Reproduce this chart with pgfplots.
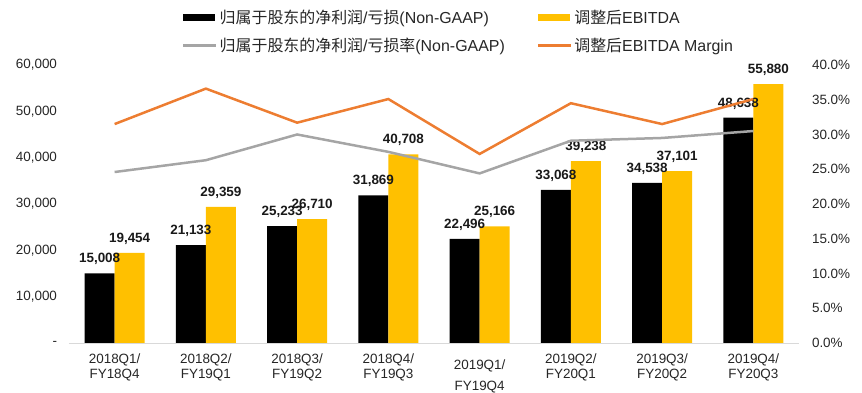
\documentclass[border=0pt]{standalone}
\usepackage{fontspec}
\setmainfont{Liberation Sans}
\newfontfamily\cjk{Noto Sans CJK SC}
\usepackage{pgfplots}
\pgfplotsset{compat=1.18}
\definecolor{bargold}{HTML}{FFC000}
\definecolor{lineorange}{HTML}{ED7D31}
\definecolor{linegray}{HTML}{A5A5A5}
\definecolor{basegray}{HTML}{D9D9D9}
\begin{document}
\begin{tikzpicture}
\begin{axis}[
  name=bars,
  scale only axis, width=730bp, height=278bp,
  xmin=-0.5, xmax=7.5, ymin=0, ymax=60000,
  clip=false,
  scaled y ticks=false,
  ybar=0pt, bar width=30bp,
  axis x line*=bottom, axis y line*=left,
  x axis line style={draw=basegray, line width=0.8bp, -},
  y axis line style={draw=none},
  major tick length=0pt,
  tick style={draw=none},
  xtick={0,1,2,3,5,6,7},
  xticklabels={{2018Q1/\\FY18Q4},{2018Q2/\\FY19Q1},{2018Q3/\\FY19Q2},{2018Q4/\\FY19Q3},{2019Q2/\\FY20Q1},{2019Q3/\\FY20Q2},{2019Q4/\\FY20Q3}},
  xticklabel style={align=center, font=\fontsize{13.5}{15}\selectfont, yshift=-7bp, text=black!85},
  extra x ticks={4},
  extra x tick labels={{2019Q1/\\FY19Q4}},
  extra x tick style={xticklabel style={yshift=-6bp, font=\fontsize{13.5}{21}\selectfont}},
  ytick={0,10000,20000,30000,40000,50000,60000},
  yticklabels={-,{10,000},{20,000},{30,000},{40,000},{50,000},{60,000}},
  yticklabel style={font=\fontsize{13.5}{15}\selectfont, xshift=-8.5bp, text=black!85},
  nodes near coords,
  nodes near coords style={font=\fontsize{13.5}{15}\selectfont\bfseries, yshift=5bp, text=black!90},
  /pgf/number format/assume math mode=true,
  /pgf/number format/.cd, fixed, precision=0, 1000 sep={,},
]
\addplot[fill=black, draw=none] coordinates {(0,15008) (1,21133) (2,25233) (3,31869) (4,22496) (5,33068) (6,34538) (7,48638)};
\addplot[fill=bargold, draw=none] coordinates {(0,19454) (1,29359) (2,26710) (3,40708) (4,25166) (5,39238) (6,37101) (7,55880)};
\end{axis}
\begin{axis}[
  scale only axis, width=730bp, height=278bp,
  xmin=-0.5, xmax=7.5, ymin=0, ymax=40,
  clip=false,
  axis x line=none, axis y line*=right,
  y axis line style={draw=none},
  major tick length=0pt, tick style={draw=none},
  ytick={0,5,10,15,20,25,30,35,40},
  yticklabels={0.0\%,5.0\%,10.0\%,15.0\%,20.0\%,25.0\%,30.0\%,35.0\%,40.0\%},
  yticklabel style={font=\fontsize{13.5}{15}\selectfont, xshift=9.5bp, text=black!85},
  legend columns=2,
  legend cell align=left,
  legend style={draw=none, fill=none, inner sep=0pt, at={(axis description cs:0.1548,1.205)}, anchor=north west,
    font=\fontsize{16}{18}\selectfont, row sep=9bp, text=black!85,
    /tikz/every even column/.append style={column sep=30bp}},
]
\addlegendimage{legend image code/.code={\fill[black] (0bp,-3bp) rectangle (31bp,3bp);}}
\addlegendentry{{\cjk 归属于股东的净利润}/{\cjk 亏损}(Non-GAAP)}
\addlegendimage{legend image code/.code={\fill[bargold] (0bp,-3bp) rectangle (31bp,3bp);}}
\addlegendentry{{\cjk 调整后}EBITDA}
\addplot[linegray, line width=2.5bp, mark=none, legend image code/.code={\draw[linegray, line width=2.5bp] (0bp,0bp) -- (33bp,0bp);}] coordinates {(0,24.6) (1,26.3) (2,30.0) (3,27.5) (4,24.4) (5,29.1) (6,29.5) (7,30.5)};
\addlegendentry{{\cjk 归属于股东的净利润}/{\cjk 亏损率}(Non-GAAP)}
\addplot[lineorange, line width=2.5bp, mark=none, legend image code/.code={\draw[lineorange, line width=2.5bp] (0bp,0bp) -- (33bp,0bp);}] coordinates {(0,31.5) (1,36.6) (2,31.7) (3,35.1) (4,27.2) (5,34.5) (6,31.5) (7,35.1)};
\addlegendentry{{\cjk 调整后}EBITDA Margin}
\end{axis}
\pgfresetboundingbox
\path ([xshift=-69bp,yshift=-50bp]bars.south west) rectangle ([xshift=63bp,yshift=65bp]bars.north east);
\end{tikzpicture}
\end{document}
